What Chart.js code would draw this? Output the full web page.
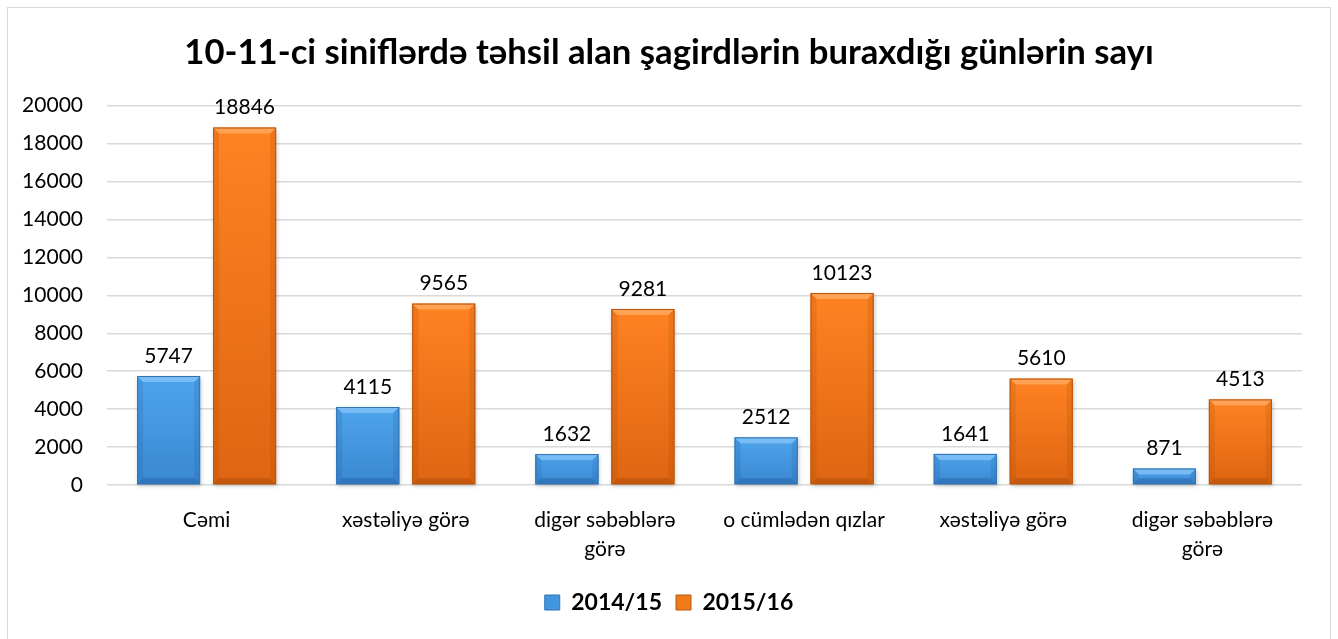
<!DOCTYPE html>
<html>
<head>
<meta charset="utf-8">
<script src="https://cdn.jsdelivr.net/npm/chart.js@4.4.0/dist/chart.umd.min.js"></script>
<style>
  html, body { margin: 0; padding: 0; background: #fff; overflow: hidden; }
  .frame { position: absolute; left: 7px; top: 7px; width: 1322px; height: 640px; border: 1px solid #d9d9d9; }
</style>
</head>
<body>
<div class="frame"><canvas id="chart" width="1322" height="631"></canvas></div>
<script>
const chartTitle = '10-11-ci siniflərdə təhsil alan şagirdlərin buraxdığı günlərin sayı'
const categories = [
  'Cəmi',
  'xəstəliyə görə',
  ['digər səbəblərə', 'görə'],
  'o cümlədən qızlar',
  'xəstəliyə görə',
  ['digər səbəblərə', 'görə']
]
const seriesNames = ['2014/15', '2015/16']
const values2014 = [5747, 4115, 1632, 2512, 1641, 871]
const values2015 = [18846, 9565, 9281, 10123, 5610, 4513]
const yMin = 0
const yMax = 20000
const yStep = 2000

const FONT = 'Lato, Carlito, Calibri, sans-serif'

const palette = [
  { face: '#4196de', top: '#4ea4ec', bottom: '#3a88d0', light: 'rgba(140,200,250,0.7)', side: 'rgba(30,90,160,0.18)', dark: 'rgba(20,70,130,0.28)', edge: '#3273b2' },
  { face: '#f07b1a', top: '#ff8222', bottom: '#de6512', light: 'rgba(255,180,110,0.65)', side: 'rgba(160,70,0,0.18)', dark: 'rgba(130,55,0,0.28)', edge: '#b9560e' }
]

function drawBevel (ctx, l, t, r, b, c) {
  const h = b - t
  if (h <= 0) return
  const s = Math.min(6, h / 2)
  ctx.save()
  ctx.shadowColor = 'rgba(0,0,0,0.22)'
  ctx.shadowBlur = 4
  ctx.shadowOffsetX = 1
  ctx.shadowOffsetY = 2
  const g = ctx.createLinearGradient(0, t, 0, b)
  g.addColorStop(0, c.top)
  g.addColorStop(1, c.bottom)
  ctx.fillStyle = g
  ctx.fillRect(l, t, r - l, h)
  ctx.restore()

  ctx.save()
  const poly = (pts, fill) => {
    ctx.beginPath()
    ctx.moveTo(pts[0][0], pts[0][1])
    for (let i = 1; i < pts.length; i++) ctx.lineTo(pts[i][0], pts[i][1])
    ctx.closePath()
    ctx.fillStyle = fill
    ctx.fill()
  }
  poly([[l, t], [r, t], [r - s, t + s], [l + s, t + s]], c.light)
  poly([[l, t], [l + s, t + s], [l + s, b - s], [l, b]], c.side)
  poly([[r, t], [r - s, t + s], [r - s, b - s], [r, b]], c.side)
  poly([[l, b], [l + s, b - s], [r - s, b - s], [r, b]], c.dark)
  ctx.strokeStyle = c.edge
  ctx.lineWidth = 1
  ctx.strokeRect(l + 0.5, t + 0.5, r - l - 1, h - 1)
  ctx.restore()
}

const bevelBars = {
  id: 'bevelBars',
  afterDatasetsDraw (chart) {
    const ctx = chart.ctx
    chart.data.datasets.forEach((ds, i) => {
      chart.getDatasetMeta(i).data.forEach((bar) => {
        const { x, y, base, width } = bar.getProps(['x', 'y', 'base', 'width'], true)
        drawBevel(ctx, x - width / 2, y, x + width / 2, base, palette[i])
      })
    })
  }
}

const valueLabels = {
  id: 'valueLabels',
  afterDatasetsDraw (chart) {
    const ctx = chart.ctx
    ctx.save()
    ctx.font = '21px ' + FONT
    ctx.fillStyle = '#000'
    ctx.textAlign = 'center'
    ctx.textBaseline = 'middle'
    chart.data.datasets.forEach((ds, i) => {
      chart.getDatasetMeta(i).data.forEach((bar, j) => {
        ctx.fillText(String(ds.data[j]), bar.x, bar.y - 20)
      })
    })
    ctx.restore()
  }
}

function buildData () {
  return {
    labels: categories,
    datasets: [
      { label: seriesNames[0], data: values2014, backgroundColor: palette[0].face, borderColor: palette[0].edge, borderWidth: 1 },
      { label: seriesNames[1], data: values2015, backgroundColor: palette[1].face, borderColor: palette[1].edge, borderWidth: 1 }
    ]
  }
}

new Chart(document.getElementById('chart').getContext('2d'), {
  type: 'bar',
  data: buildData(),
  plugins: [bevelBars, valueLabels],
  options: {
    responsive: false,
    animation: false,
    devicePixelRatio: 1,
    categoryPercentage: 0.763,
    barPercentage: 0.83,
    layout: { padding: { left: 0, right: 0, top: 0, bottom: 15 } },
    plugins: {
      title: {
        display: true,
        text: chartTitle,
        color: '#000',
        font: { family: FONT, size: 34.7, weight: 'bold' },
        padding: { top: 24, bottom: 32 }
      },
      legend: {
        position: 'bottom',
        labels: {
          color: '#000',
          font: { family: FONT, size: 23, weight: 'bold' },
          boxWidth: 15,
          boxHeight: 15,
          padding: 14
        }
      },
      tooltip: { enabled: false }
    },
    scales: {
      x: {
        grid: { display: false },
        border: { display: false },
        ticks: {
          color: '#000',
          font: { family: FONT, size: 21, lineHeight: 1.38 },
          padding: 13,
          maxRotation: 0,
          autoSkip: false
        }
      },
      y: {
        min: yMin,
        max: yMax,
        grid: { color: '#d9d9d9', lineWidth: 1.5, drawTicks: false },
        border: { display: false },
        ticks: {
          stepSize: yStep,
          color: '#000',
          font: { family: FONT, size: 21 },
          padding: 24,
          callback: (value) => String(value)
        },
        afterFit (scale) { scale.width = 99 }
      },
      // empty right-hand margin axis so the title stays centred on the whole frame
      yRight: {
        position: 'right',
        grid: { display: false },
        border: { display: false },
        ticks: { display: false },
        afterFit (scale) { scale.width = 28 }
      }
    }
  }
})
</script>
</body>
</html>
